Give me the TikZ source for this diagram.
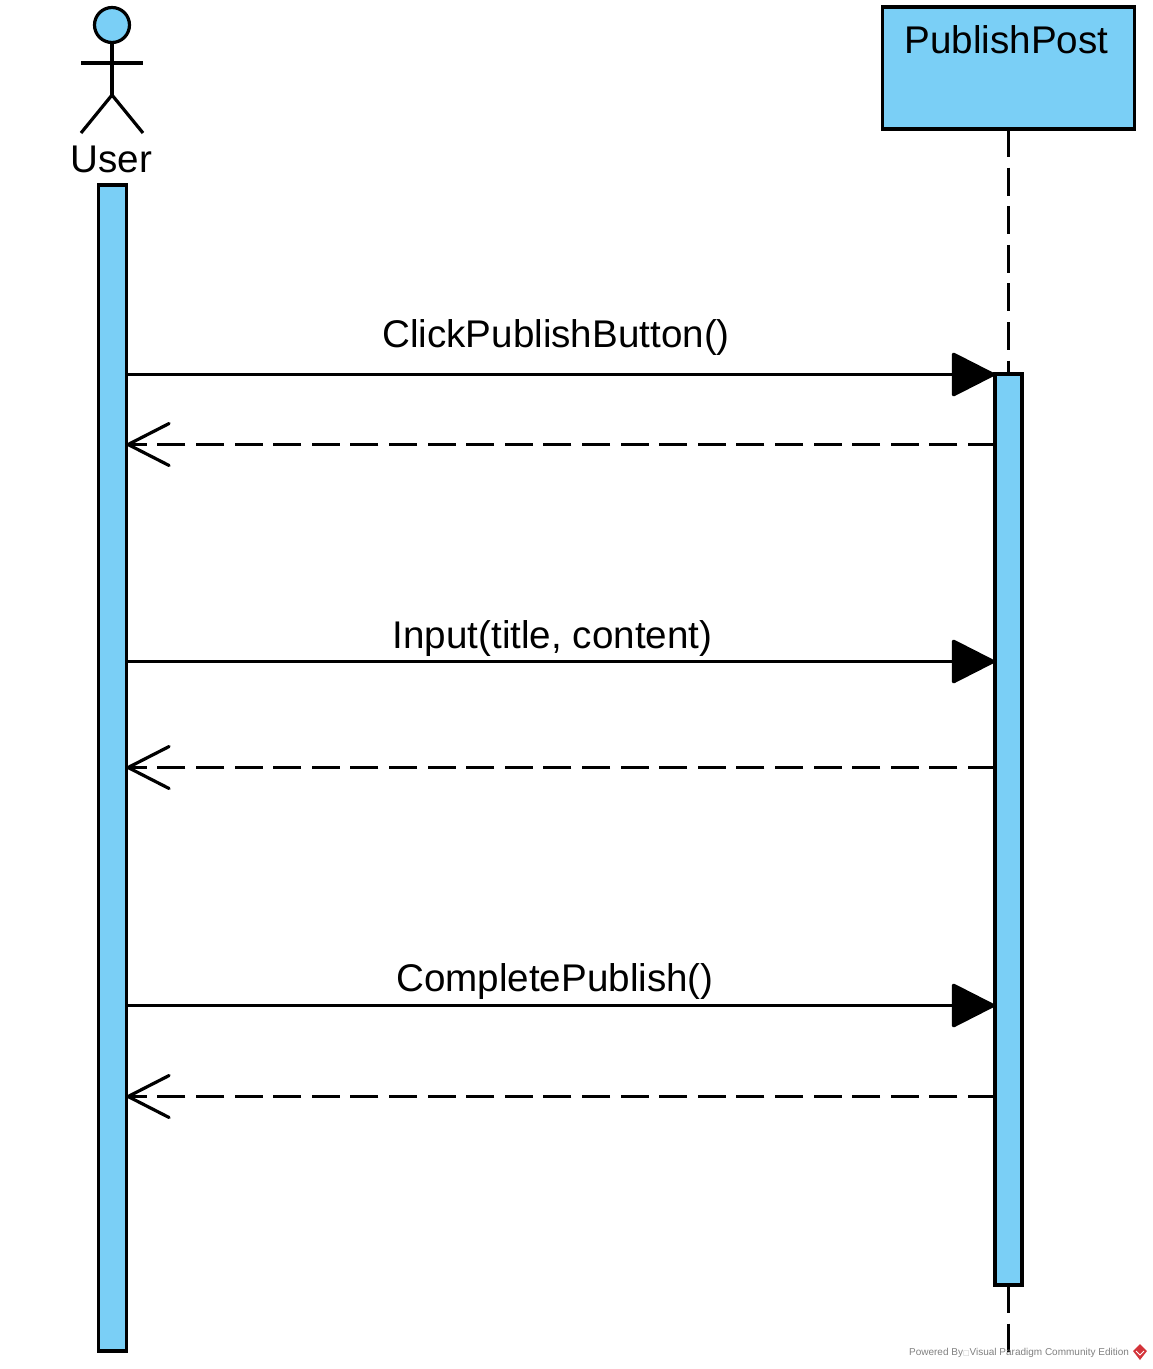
\documentclass[tikz,border=0pt]{standalone}
\usepackage{fontspec}
\setmainfont{Liberation Sans}
\newfontfamily\symbfont{DejaVu Sans}
\usetikzlibrary{arrows.meta}
\definecolor{umlblue}{HTML}{7ACFF6}
\definecolor{vpgrey}{HTML}{808080}
\definecolor{vpred}{HTML}{D3343A}
\tikzset{every picture/.style={line width=3.2pt}}
\tikzset{uml bar/.style={rectangle, draw, fill=umlblue, minimum width=28pt, inner sep=0pt, outer sep=0pt}}
\tikzset{uml label/.style={font=\fontsize{38.6}{46}\selectfont, inner sep=0pt}}
\tikzset{lifeline/.style={dash pattern=on 28pt off 10.6pt}}
\tikzset{call/.style={-{Triangle[length=45pt,width=45pt,round]}}}
\tikzset{reply/.style={-{Straight Barb[length=41pt,width=42pt,round]}, dash pattern=on 28pt off 10.6pt, dash phase=1pt}}

\begin{document}
\begin{tikzpicture}[x=1pt,y=-1pt]
    \useasboundingbox (0,0) rectangle (1152,1369);
    % actor
    \node[circle, draw, fill=umlblue, minimum size=35pt, inner sep=0pt, outer sep=0pt] (head) at (112,25) {};
    \coordinate (hip) at (112,95);
    \draw (head.south) -- (hip);
    \draw (81,63) -- (143,63);
    \draw (81,133) -- (hip) -- (143,133);
    \node[uml label] (user) at (111.5,159) {User};
    % lifelines
    \node[rectangle, draw, fill=umlblue, minimum width=252pt, minimum height=122pt, inner sep=0pt, outer sep=0pt] (post) at (1008.5,68) {};
    \node[uml label] (postname) at (1006.5,40) {PublishPost};
    \coordinate (postend) at (1008.5,1352);
    \node[uml bar, minimum height=1166pt] (userbar) at (112.5,768) {};
    \node[uml bar, minimum width=27pt, minimum height=911pt] (postbar) at (1008.5,829.5) {};
    \draw[lifeline] (post.south) -- (postbar.north);
    \draw[lifeline] (postbar.south) -- (postend);
    % messages
    \foreach \name/\ypos in {msga/374.5, msgb/444.5, msgc/661.5, msgd/767.5, msge/1005.5, msgf/1096.5}
        \coordinate (\name) at (0,\ypos);
    \draw[call] (userbar.east |- msga) -- (postbar.west |- msga);
    \draw[reply] (postbar.west |- msgb) -- (userbar.east |- msgb);
    \draw[call] (userbar.east |- msgc) -- (postbar.west |- msgc);
    \draw[reply] (postbar.west |- msgd) -- (userbar.east |- msgd);
    \draw[call] (userbar.east |- msge) -- (postbar.west |- msge);
    \draw[reply] (postbar.west |- msgf) -- (userbar.east |- msgf);
    \node[uml label] (labela) at (556,338) {ClickPublishButton()};
    \node[uml label] (labelc) at (552.5,639) {Input(title, content)};
    \node[uml label] (labele) at (555,982) {CompletePublish()};
    % watermark
    \node[font=\fontsize{10}{12}\selectfont, text=vpgrey, inner sep=0pt, anchor=west] (powered) at (907.5,1353) {Powered By{\symbfont\fontsize{7}{8}\selectfont\color{lightgray}\char"25A1}Visual Paradigm Community Edition};
    \fill[vpred] (1140,1344) -- (1147,1351) -- (1140,1360) -- (1133,1351) -- cycle;
    \draw[white, line width=1pt] (1136,1351) -- (1140,1355) -- (1144,1351);
\end{tikzpicture}
\end{document}
